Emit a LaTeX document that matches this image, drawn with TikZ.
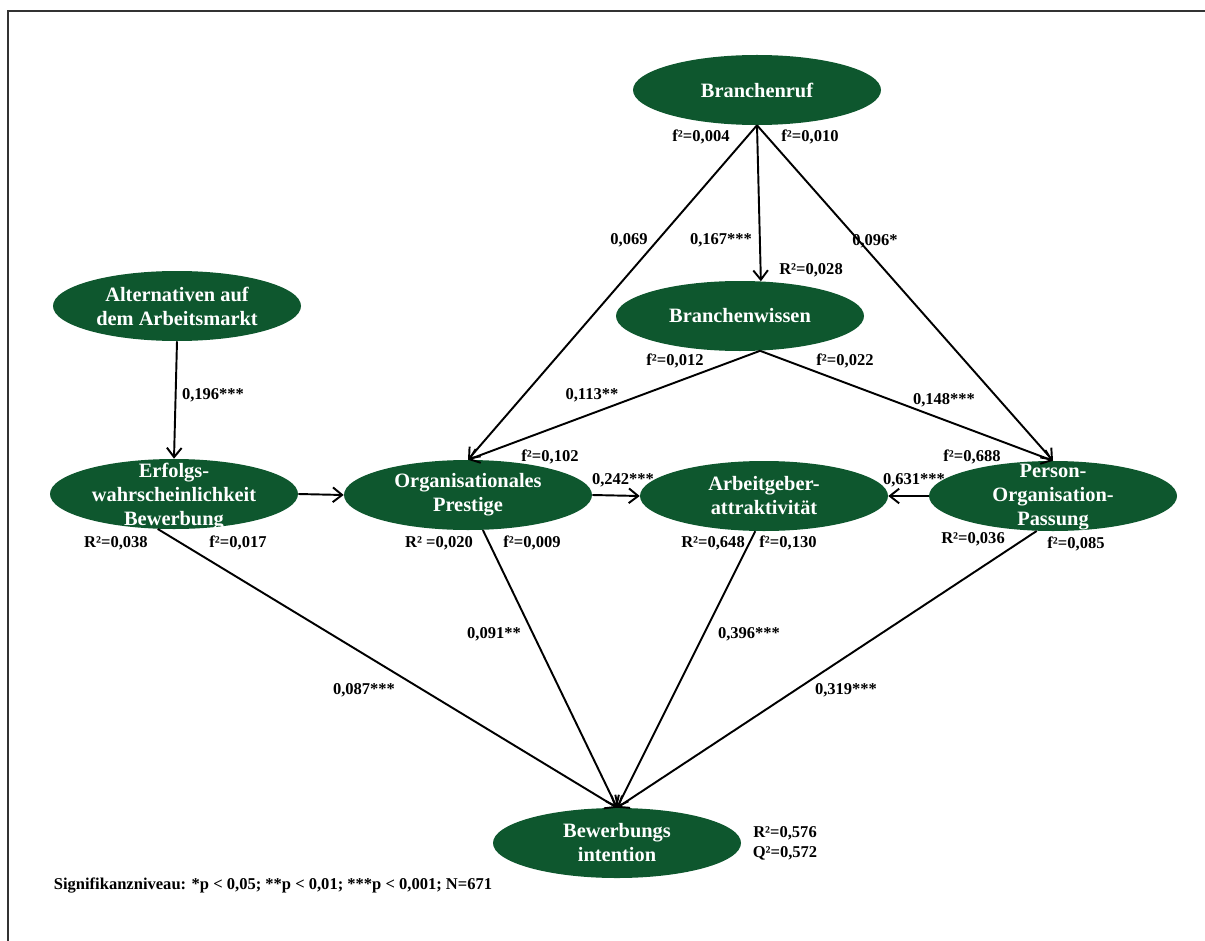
\documentclass[tikz,border=0pt]{standalone}
\usepackage{fontspec}
\setmainfont{Liberation Serif}
\usetikzlibrary{arrows.meta,shapes.geometric}
\definecolor{modelgreen}{RGB}{14,87,46}
\begin{document}
\begin{tikzpicture}[x=0.75pt,y=-0.75pt,
  construct/.style={ellipse, fill=modelgreen, draw=none, minimum width=186pt,
    minimum height=52.5pt, inner sep=0pt},
  ctext/.style={text=white, font=\fontsize{15.3}{18}\selectfont\bfseries,
    align=center, inner sep=0pt},
  pathline/.style={draw=black, line width=1.45pt,
    -{Straight Barb[length=7pt,width=11pt]}},
  coef/.style={font=\fontsize{12.4}{14}\selectfont\bfseries, inner sep=0pt},
]
\useasboundingbox (0,0) rectangle (1205,941);
% frame
\draw[line width=1.5pt, draw=black!80] (8,941) -- (8,11) -- (1205,11);

% constructs
\node[construct] (br)  at (757,90)  {};
\node[construct] (bw)  at (740,316) {};
\node[construct] (alt) at (177,306) {};
\node[construct] (erf) at (174,494) {};
\node[construct] (op)  at (468,495) {};
\node[construct] (aa)  at (764,496) {};
\node[construct] (pop) at (1053,496) {};
\node[construct] (bi)  at (617,843) {};

\node[ctext] (br-t)  at (br)  {Branchenruf};
\node[ctext] (bw-t)  at (bw)  {Branchenwissen};
\node[ctext] (alt-t) at (alt) {Alternativen auf\\dem Arbeitsmarkt};
\node[ctext] (erf-t) at ([yshift=-2pt]erf.center) {Erfolgs-\\wahrscheinlichkeit\\Bewerbung};
\node[ctext] (op-t)  at (op)  {Organisationales\\Prestige};
\node[ctext] (aa-t)  at (aa)  {Arbeitgeber-\\attraktivität};
\node[ctext] (pop-t) at ([yshift=-1pt]pop.center) {Person-\\Organisation-\\Passung};
\node[ctext] (bi-t)  at (bi)  {Bewerbungs\\intention};

% paths
\draw[pathline] (br.south) -- (bw.59);
\draw[pathline] (br.south) -- (op.north);
\draw[pathline] (br.south) -- (pop.north);
\draw[pathline] (bw.-60) -- (op.north);
\draw[pathline] (bw.-60) -- (pop.north);
\draw[pathline] (alt.south) -- (erf.north);
\draw[pathline] (erf.east) -- (op.west);
\draw[pathline] (op.east) -- (aa.west);
\draw[pathline] (pop.west) -- (aa.east);
\draw[pathline] (erf.-115) -- (bi.north);
\draw[pathline] (op.-67) -- (bi.north);
\draw[pathline] (aa.-104) -- (bi.north);
\draw[pathline] (pop.-115) -- (bi.north);

% coefficients and effect sizes
\node[coef] (c1)  at (701,137) {f²=0,004};
\node[coef] (c2)  at (810,137) {f²=0,010};
\node[coef] (c3)  at (629,240) {0,069};
\node[coef] (c4)  at (721,240) {0,167***};
\node[coef] (c5)  at (875,241) {0,096*};
\node[coef] (c6)  at (811,270) {R²=0,028};
\node[coef] (c7)  at (675,361) {f²=0,012};
\node[coef] (c8)  at (845,361) {f²=0,022};
\node[coef] (c9)  at (592,395) {0,113**};
\node[coef] (c10) at (944,400) {0,148***};
\node[coef] (c11) at (213,395) {0,196***};
\node[coef] (c12) at (550,457) {f²=0,102};
\node[coef] (c13) at (972,457) {f²=0,688};
\node[coef] (c14) at (623,480) {0,242***};
\node[coef] (c15) at (914,480) {0,631***};
\node[coef] (c16) at (116,543) {R²=0,038};
\node[coef] (c17) at (238,543) {f²=0,017};
\node[coef] (c18) at (439,543) {R² =0,020};
\node[coef] (c19) at (532,543) {f²=0,009};
\node[coef] (c20) at (713,543) {R²=0,648};
\node[coef] (c21) at (788,543) {f²=0,130};
\node[coef] (c22) at (973,539) {R²=0,036};
\node[coef] (c23) at (1076,544) {f²=0,085};
\node[coef] (c24) at (494,634) {0,091**};
\node[coef] (c25) at (749,634) {0,396***};
\node[coef] (c26) at (364,690) {0,087***};
\node[coef] (c27) at (846,690) {0,319***};
\node[coef] (c28) at (785,833) {R²=0,576};
\node[coef] (c29) at (785,853) {Q²=0,572};

\node[coef] (note) at (273,885) {Signifikanzniveau: *p < 0,05; **p < 0,01; ***p < 0,001; N=671};
\end{tikzpicture}
\end{document}
